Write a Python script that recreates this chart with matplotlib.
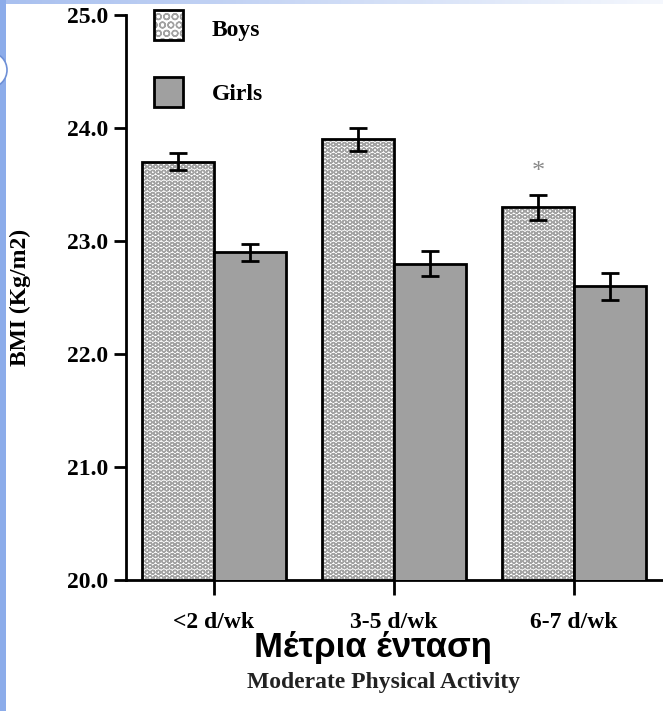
import matplotlib.pyplot as plt
import numpy as np
from matplotlib.colors import LinearSegmentedColormap
from matplotlib.patches import Rectangle, Circle

groups = ["<2 d/wk", "3-5 d/wk", "6-7 d/wk"]
boys = [23.7, 23.9, 23.3]
boys_se = [0.075, 0.10, 0.11]
girls = [22.9, 22.8, 22.6]
girls_se = [0.075, 0.11, 0.12]
yticks = [20.0, 21.0, 22.0, 23.0, 24.0, 25.0]

serif = "Liberation Serif"
fs = 17
dot_gray = "#a2a2a2"
girl_gray = "#a0a0a0"
W, H = 663, 711

fig = plt.figure(figsize=(W / 100, H / 100), dpi=100)

# slide frame: blue strip on the left, faded strip on top, round bullet
fig.patches.append(Rectangle((0, 0), 6 / W, 1, transform=fig.transFigure,
                             facecolor="#8cacea", edgecolor="none", zorder=0))
strip = fig.add_axes([6 / W, 1 - 4 / H, 1 - 6 / W, 4 / H], zorder=0)
strip.imshow(np.linspace(0, 1, 200)[None, :], aspect="auto",
             cmap=LinearSegmentedColormap.from_list("strip", ["#a9c0ef", "#f4f7fd"]))
strip.axis("off")
fig.patches.append(Circle((-9 / W, 1 - 70 / H), 16 / W, transform=fig.transFigure,
                          facecolor="white", edgecolor="#6f90d6", lw=1.2, zorder=1))

ax = fig.add_axes([126 / W, 1 - 580 / H, 1 - 126 / W, 565 / H])
x = np.arange(len(groups))
w = 0.4

# boys: dotted fill drawn separately from its black outline
ax.bar(x - w / 2, boys, w, color="white", edgecolor=dot_gray,
       hatch="OOO", linewidth=0, zorder=2)
ax.bar(x - w / 2, boys, w, fill=False, edgecolor="black", linewidth=2, zorder=3)
ax.bar(x + w / 2, girls, w, color=girl_gray, edgecolor="black", linewidth=2, zorder=3)

ax.errorbar(x - w / 2, boys, yerr=boys_se, fmt="none", ecolor="black",
            elinewidth=2, capsize=6.5, capthick=2, zorder=4)
ax.errorbar(x + w / 2, girls, yerr=girls_se, fmt="none", ecolor="black",
            elinewidth=2, capsize=6.5, capthick=2, zorder=4)

ax.text(x[2] - w / 2, boys[2] + boys_se[2] + 0.1, "*", ha="center", va="bottom",
        fontsize=19, color="#8a8a8a", family=serif)

ax.set_ylim(20, 25)
ax.set_xlim(-0.489, 2.494)
ax.set_yticks(yticks)
ax.set_yticklabels([f"{v:.1f}" for v in yticks], family=serif, fontsize=fs,
                   fontweight="bold")
ax.set_xticks(x)
ax.set_xticklabels(groups, family=serif, fontsize=fs, fontweight="bold")
for s in ["top", "right"]:
    ax.spines[s].set_visible(False)
for s in ["left", "bottom"]:
    ax.spines[s].set_linewidth(2)
ax.tick_params(axis="y", length=9, width=2, pad=4)
ax.tick_params(axis="x", length=11, width=2, pad=12)

fig.text(20 / W, 1 - 297 / H, "BMI (Kg/m2)", rotation=90, ha="center",
         va="center", family=serif, fontsize=fs, fontweight="bold")

# key boxes in the upper left
def key_box(top, **kw):
    fig.patches.append(Rectangle((154 / W, 1 - (top + 30) / H), 29 / W, 30 / H,
                                 transform=fig.transFigure, zorder=3, **kw))

key_box(10, facecolor="white", edgecolor=dot_gray, hatch="OO", lw=0)
key_box(10, fill=False, edgecolor="black", lw=2)
key_box(77, facecolor=girl_gray, edgecolor="black", lw=2)
fig.text(212 / W, 1 - 36 / H, "Boys", va="baseline", family=serif,
         fontsize=fs, fontweight="bold")
fig.text(212 / W, 1 - 100 / H, "Girls", va="baseline", family=serif,
         fontsize=fs, fontweight="bold")

fig.text(373 / W, 1 - 657 / H, "Μέτρια ένταση", ha="center", va="baseline",
         fontsize=25, fontweight="bold", family="Liberation Sans")
fig.text(384 / W, 1 - 688 / H, "Moderate Physical Activity", ha="center",
         va="baseline", fontsize=fs, fontweight="bold", family=serif,
         color="#222222")

fig.savefig("out.png", dpi=100)
